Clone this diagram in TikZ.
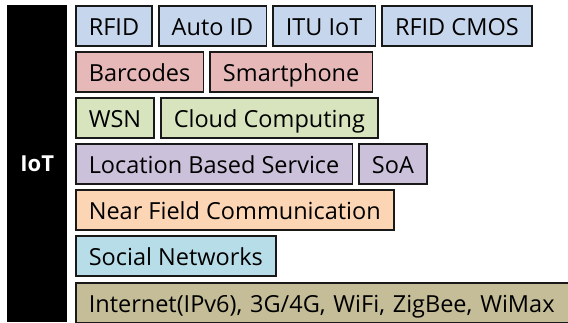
\documentclass[tikz,border=0pt]{standalone}
\usepackage{fontspec}
\setmainfont{Open Sans}
\usetikzlibrary{positioning}

\definecolor{rowblue}{RGB}{198,214,236}
\definecolor{rowred}{RGB}{230,185,184}
\definecolor{rowgreen}{RGB}{215,228,189}
\definecolor{rowpurple}{RGB}{204,193,218}
\definecolor{roworange}{RGB}{252,213,181}
\definecolor{rowcyan}{RGB}{183,222,232}
\definecolor{rowkhaki}{RGB}{196,189,151}

\begin{document}
\begin{tikzpicture}[x=1pt,y=-1pt,
  tech/.style={rectangle,draw=black!90,line width=1.6pt,fill=#1,inner xsep=13pt,inner ysep=0pt,
    text height=20pt,text depth=2pt,minimum height=40pt,
    font=\fontsize{23.5}{28}\selectfont,anchor=west},
  iotbar/.style={rectangle,fill=black,minimum width=60pt,minimum height=317pt,inner sep=0pt,
    text=white,font=\fontsize{22}{26}\selectfont\bfseries},
  gap/.style={right=5pt of #1},
]
\useasboundingbox (0,0) rectangle (568,322);

% IoT bar
\node[iotbar,anchor=north west] (iot) at (7,5) {IoT};

% Row 1
\node[tech=rowblue] (rfid) at (75,26) {RFID};
\node[tech=rowblue,gap=rfid] (autoid) {Auto ID};
\node[tech=rowblue,gap=autoid] (ituiot) {ITU IoT};
\node[tech=rowblue,gap=ituiot] (cmos) {RFID CMOS};

% Row 2
\node[tech=rowred] (barcodes) at (75,72) {Barcodes};
\node[tech=rowred,gap=barcodes] (phone) {Smartphone};

% Row 3
\node[tech=rowgreen] (wsn) at (75,118) {WSN};
\node[tech=rowgreen,gap=wsn] (cloud) {Cloud Computing};

% Row 4
\node[tech=rowpurple] (lbs) at (75,164) {Location Based Service};
\node[tech=rowpurple,gap=lbs] (soa) {SoA};

% Row 5
\node[tech=roworange] (nfc) at (75,210) {Near Field Communication};

% Row 6
\node[tech=rowcyan] (social) at (75,256) {Social Networks};

% Row 7
\node[tech=rowkhaki,text width=476pt] (net) at (75,303) {Internet(IPv6), 3G/4G, WiFi, ZigBee, WiMax};

\end{tikzpicture}
\end{document}
